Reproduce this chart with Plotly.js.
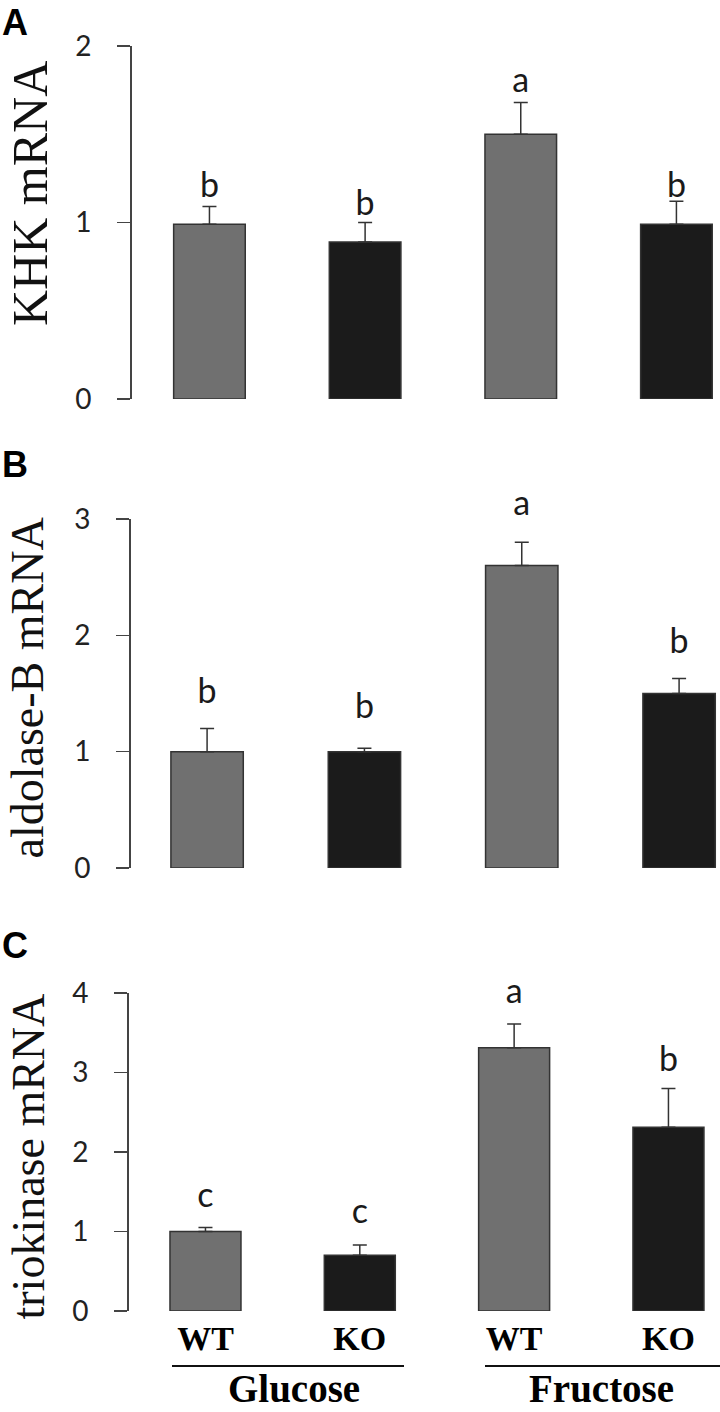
<!DOCTYPE html>
<html>
<head>
<meta charset="utf-8">
<script src="https://cdn.plot.ly/plotly-3.0.1.min.js"></script>
<style>
  body { margin: 0; background: #fff; }
  #plot { width: 720px; height: 1412px; }
</style>
</head>
<body>
<div id="plot"></div>
<script>
// groups and genotypes along the x axis
var groups = ["Glucose", "Fructose"];
var genotypes = ["WT", "KO", "WT", "KO"];
var pos = [0, 1, 2, 3];

// A: KHK mRNA
var khk = [0.99, 0.89, 1.50, 0.99];
var khkErr = [0.10, 0.11, 0.18, 0.13];
var khkLetters = ["b", "b", "a", "b"];
var khkLetterY = [1.19, 1.09, 1.79, 1.19];

// B: aldolase-B mRNA
var aldob = [1.00, 1.00, 2.60, 1.50];
var aldobErr = [0.20, 0.03, 0.20, 0.13];
var aldobLetters = ["b", "b", "a", "b"];
var aldobLetterY = [1.49, 1.36, 3.11, 1.92];

// C: triokinase mRNA
var trio = [1.00, 0.70, 3.31, 2.31];
var trioErr = [0.05, 0.13, 0.30, 0.49];
var trioLetters = ["c", "c", "a", "b"];
var trioLetterY = [1.41, 1.22, 3.98, 3.13];

var barColors = ["#707070", "#1b1b1b", "#707070", "#1b1b1b"];
var zeros = [0, 0, 0, 0];

function barTrace(y, err, xa, ya) {
  return {
    type: "bar",
    x: pos,
    y: y,
    width: 0.46,
    xaxis: xa,
    yaxis: ya,
    marker: { color: barColors, line: { color: "#333", width: 1.5 } },
    error_y: {
      type: "data", array: err, arrayminus: zeros, symmetric: false,
      color: "#333", thickness: 1.5, width: 7
    },
    hoverinfo: "skip"
  };
}

function letterTrace(ly, txt, xa, ya) {
  return {
    type: "scatter",
    mode: "text",
    x: pos,
    y: ly,
    text: txt,
    textposition: "middle center",
    textfont: { family: "Lato, 'Open Sans', sans-serif", size: 34, color: "#1a1a1a" },
    cliponaxis: false,
    xaxis: xa,
    yaxis: ya,
    hoverinfo: "skip"
  };
}

var data = [
  barTrace(khk, khkErr, "x", "y"),
  letterTrace(khkLetterY, khkLetters, "x", "y"),
  barTrace(aldob, aldobErr, "x2", "y2"),
  letterTrace(aldobLetterY, aldobLetters, "x2", "y2"),
  barTrace(trio, trioErr, "x3", "y3"),
  letterTrace(trioLetterY, trioLetters, "x3", "y3")
];

function py(p) { return 1 - p / 1412; }

// y axis: 0 at zeroPx, max at maxPx, some headroom above for the letters
function yAxis(max, zeroPx, maxPx, anchor) {
  var head = 40;
  var perUnit = (zeroPx - maxPx) / max;
  var ticks = [];
  for (var i = 0; i <= max; i++) ticks.push(i);
  return {
    domain: [py(zeroPx), py(maxPx - head)],
    anchor: anchor,
    range: [0, max + head / perUnit],
    tickvals: ticks,
    showgrid: false,
    zeroline: false,
    showline: false,
    ticks: "outside",
    ticklen: 13,
    tickwidth: 1.5,
    tickcolor: "#444",
    ticklabelstandoff: 20,
    tickfont: { family: "Lato, 'Open Sans', sans-serif", size: 28, color: "#222" },
    fixedrange: true
  };
}

function xAxis(lo, hi, left, anchor, labels) {
  return {
    domain: [left / 720, 1],
    anchor: anchor,
    range: [lo, hi],
    showgrid: false,
    zeroline: false,
    showline: false,
    ticks: "",
    tickvals: pos,
    ticktext: genotypes,
    showticklabels: labels,
    ticklabelstandoff: 4,
    tickfont: { family: "'Liberation Serif', 'Times New Roman', serif", size: 34, color: "#000", weight: "bold" },
    fixedrange: true
  };
}

function axisLine(xa, ya, max) {
  return { type: "line", xref: xa + " domain", yref: ya, x0: 0, x1: 0, y0: 0, y1: max, line: { color: "#444", width: 2 } };
}

var titleFont = { family: "'Liberation Serif', 'Times New Roman', serif", color: "#111" };
var panelFont = { family: "'Liberation Sans', Arial, sans-serif", size: 36, color: "#000", weight: "bold" };
var groupFont = { family: "'Liberation Serif', 'Times New Roman', serif", size: 39, color: "#000", weight: "bold" };

var layout = {
  width: 720,
  height: 1412,
  margin: { l: 0, r: 0, t: 0, b: 0 },
  paper_bgcolor: "#fff",
  plot_bgcolor: "#fff",
  showlegend: false,
  xaxis: xAxis(-0.504, 3.28, 131, "y", false),
  yaxis: yAxis(2, 399, 46, "x"),
  xaxis2: xAxis(-0.49, 3.26, 130, "y2", false),
  yaxis2: yAxis(3, 868, 519, "x2"),
  xaxis3: xAxis(-0.502, 3.334, 128, "y3", true),
  yaxis3: yAxis(4, 1311, 993, "x3"),
  annotations: [
    { text: "A", xref: "paper", yref: "paper", x: 0, y: 1, xanchor: "left", yanchor: "top", showarrow: false, font: panelFont },
    { text: "B", xref: "paper", yref: "paper", x: 0, y: py(464), xanchor: "left", yanchor: "middle", showarrow: false, font: panelFont },
    { text: "C", xref: "paper", yref: "paper", x: 0, y: py(945), xanchor: "left", yanchor: "middle", showarrow: false, font: panelFont },
    { text: "KHK mRNA", xref: "paper", yref: "paper", x: 0, y: py(194), xanchor: "left", yanchor: "middle", textangle: -90, showarrow: false, font: Object.assign({ size: 50 }, titleFont) },
    { text: "aldolase-B mRNA", xref: "paper", yref: "paper", x: 0, y: py(688), xanchor: "left", yanchor: "middle", textangle: -90, showarrow: false, font: Object.assign({ size: 46 }, titleFont) },
    { text: "triokinase mRNA", xref: "paper", yref: "paper", x: 0, y: py(1157), xanchor: "left", yanchor: "middle", textangle: -90, showarrow: false, font: Object.assign({ size: 46 }, titleFont) },
    { text: groups[0], xref: "paper", yref: "paper", x: 294 / 720, y: 0, xanchor: "center", yanchor: "bottom", showarrow: false, font: groupFont },
    { text: groups[1], xref: "paper", yref: "paper", x: 601 / 720, y: 0, xanchor: "center", yanchor: "bottom", showarrow: false, font: groupFont }
  ],
  shapes: [
    axisLine("x", "y", 2),
    axisLine("x2", "y2", 3),
    axisLine("x3", "y3", 4),
    { type: "line", xref: "paper", yref: "paper", x0: 172 / 720, x1: 404 / 720, y0: py(1366), y1: py(1366), line: { color: "#111", width: 2 } },
    { type: "line", xref: "paper", yref: "paper", x0: 485 / 720, x1: 1, y0: py(1366), y1: py(1366), line: { color: "#111", width: 2 } }
  ]
};

Plotly.newPlot("plot", data, layout, { displayModeBar: false, staticPlot: true });
</script>
</body>
</html>
